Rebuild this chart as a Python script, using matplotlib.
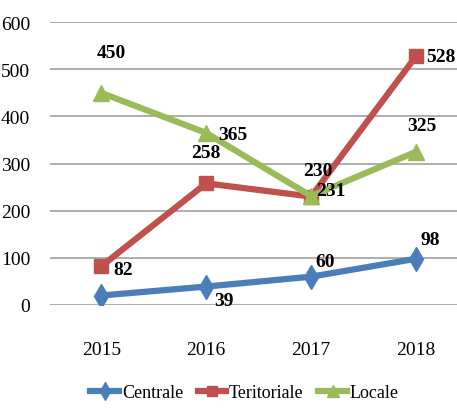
import numpy as np
import matplotlib.pyplot as plt

plt.rcParams['font.family'] = ['Liberation Serif', 'DejaVu Serif']

years = ['2015', '2016', '2017', '2018']
centrale = [20, 39, 60, 98]
teritoriale = [82, 258, 230, 528]
locale = [450, 365, 231, 325]

# label offsets in points (None = no label)
off_c = [None, (13, -10), (10, 11), (10, 14)]
off_t = [(16, -2), (0, 22), (5, 19), (18, 0)]
off_l = [(7, 29), (19, -1), (14, 4), (4, 19)]

fig = plt.figure(figsize=(4.57, 4.14), dpi=100)
ax = fig.add_axes([0.109, 0.261, 0.891, 0.683])

x = np.arange(len(years))
series = [
    ('Centrale', centrale, '#4A7EBB', 'd', 12, off_c),
    ('Teritoriale', teritoriale, '#C0504D', 's', 10, off_t),
    ('Locale', locale, '#9BBB59', '^', 11, off_l),
]
for name, vals, col, mk, ms, offs in series:
    ax.plot(x, vals, color=col, lw=4.5, marker=mk, ms=ms, label=name)
    for xi, v, o in zip(x, vals, offs):
        if o is None:
            continue
        ax.annotate(str(v), (xi, v), xytext=o, textcoords='offset points',
                    ha='center', va='center', fontsize=14, fontweight='bold')

ax.set_xlim(-0.49, 3.39)
ax.set_ylim(0, 600)
ax.set_yticks(range(0, 601, 100))
ax.set_xticks(x)
ax.set_xticklabels(years)
ax.tick_params(length=0, labelsize=14)
ax.tick_params(axis='x', pad=26)
ax.tick_params(axis='y', pad=14)
ax.grid(axis='y', color='#A0A0A0', lw=1.2)
ax.set_axisbelow(True)
for s in ax.spines.values():
    s.set_visible(False)

fig.legend(loc='lower center', bbox_to_anchor=(0.535, -0.01), ncol=3, frameon=False,
           fontsize=13, handlelength=1.6, handletextpad=0.15, columnspacing=0.8,
           markerscale=0.75)

fig.savefig('out.png', dpi=100)
